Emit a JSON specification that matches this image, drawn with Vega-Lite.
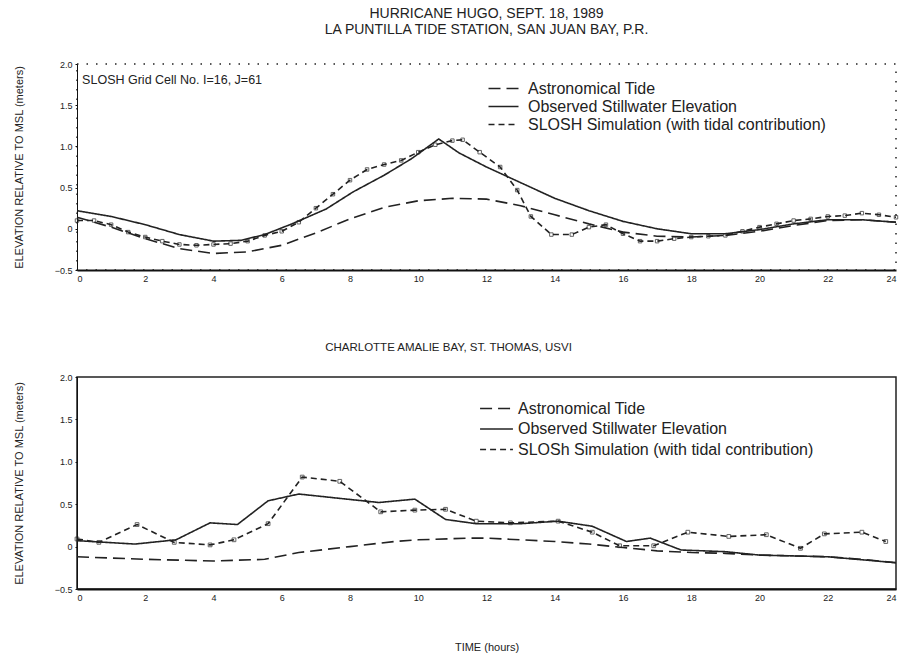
{
  "$schema": "https://vega.github.io/schema/vega-lite/v6.json",
  "background": "white",
  "padding": {"left": 12, "top": 6, "right": 10, "bottom": 1},
  "spacing": 56,
  "resolve": {"scale": {"strokeDash": "independent"}, "legend": {"strokeDash": "independent"}},
  "config": {
    "font": "Liberation Sans",
    "view": {"stroke": "black", "strokeWidth": 1},
    "axis": {"grid": false, "labelFont": "Liberation Sans", "labelFontSize": 9, "labelColor": "#222", "domainColor": "#111", "tickColor": "#111", "tickSize": 3, "titleFont": "Liberation Sans", "titleFontWeight": "normal", "titleFontSize": 11, "titleColor": "#222"},
    "legend": {"labelFont": "Liberation Sans", "labelFontSize": 16, "labelColor": "#222"},
    "title": {"font": "Liberation Sans", "fontWeight": "normal", "color": "#222"}
  },
  "datasets": {
    "top": [
      {"s": "Astronomical Tide", "h": 0, "v": 0.14}, {"s": "Astronomical Tide", "h": 1, "v": 0.02}, {"s": "Astronomical Tide", "h": 2, "v": -0.12}, {"s": "Astronomical Tide", "h": 3, "v": -0.24}, {"s": "Astronomical Tide", "h": 4, "v": -0.3}, {"s": "Astronomical Tide", "h": 5, "v": -0.28}, {"s": "Astronomical Tide", "h": 6, "v": -0.2}, {"s": "Astronomical Tide", "h": 7, "v": -0.05}, {"s": "Astronomical Tide", "h": 8, "v": 0.12}, {"s": "Astronomical Tide", "h": 9, "v": 0.26}, {"s": "Astronomical Tide", "h": 10, "v": 0.34}, {"s": "Astronomical Tide", "h": 11, "v": 0.37}, {"s": "Astronomical Tide", "h": 12, "v": 0.36}, {"s": "Astronomical Tide", "h": 13, "v": 0.28}, {"s": "Astronomical Tide", "h": 14, "v": 0.17}, {"s": "Astronomical Tide", "h": 15, "v": 0.06}, {"s": "Astronomical Tide", "h": 16, "v": -0.04}, {"s": "Astronomical Tide", "h": 17, "v": -0.09}, {"s": "Astronomical Tide", "h": 18, "v": -0.1}, {"s": "Astronomical Tide", "h": 19, "v": -0.08}, {"s": "Astronomical Tide", "h": 20, "v": -0.03}, {"s": "Astronomical Tide", "h": 21, "v": 0.04}, {"s": "Astronomical Tide", "h": 22, "v": 0.1}, {"s": "Astronomical Tide", "h": 23, "v": 0.11}, {"s": "Astronomical Tide", "h": 24, "v": 0.08},
      {"s": "Observed Stillwater Elevation", "h": 0, "v": 0.22}, {"s": "Observed Stillwater Elevation", "h": 1, "v": 0.15}, {"s": "Observed Stillwater Elevation", "h": 2, "v": 0.05}, {"s": "Observed Stillwater Elevation", "h": 3, "v": -0.07}, {"s": "Observed Stillwater Elevation", "h": 4, "v": -0.15}, {"s": "Observed Stillwater Elevation", "h": 4.8, "v": -0.14}, {"s": "Observed Stillwater Elevation", "h": 5.5, "v": -0.07}, {"s": "Observed Stillwater Elevation", "h": 6.3, "v": 0.06}, {"s": "Observed Stillwater Elevation", "h": 7.3, "v": 0.24}, {"s": "Observed Stillwater Elevation", "h": 8.1, "v": 0.45}, {"s": "Observed Stillwater Elevation", "h": 9, "v": 0.65}, {"s": "Observed Stillwater Elevation", "h": 9.8, "v": 0.85}, {"s": "Observed Stillwater Elevation", "h": 10.6, "v": 1.09}, {"s": "Observed Stillwater Elevation", "h": 11.2, "v": 0.92}, {"s": "Observed Stillwater Elevation", "h": 12, "v": 0.75}, {"s": "Observed Stillwater Elevation", "h": 13, "v": 0.56}, {"s": "Observed Stillwater Elevation", "h": 14, "v": 0.37}, {"s": "Observed Stillwater Elevation", "h": 15, "v": 0.22}, {"s": "Observed Stillwater Elevation", "h": 16, "v": 0.09}, {"s": "Observed Stillwater Elevation", "h": 17, "v": 0.0}, {"s": "Observed Stillwater Elevation", "h": 18, "v": -0.06}, {"s": "Observed Stillwater Elevation", "h": 19, "v": -0.06}, {"s": "Observed Stillwater Elevation", "h": 20, "v": -0.01}, {"s": "Observed Stillwater Elevation", "h": 21, "v": 0.06}, {"s": "Observed Stillwater Elevation", "h": 22, "v": 0.11}, {"s": "Observed Stillwater Elevation", "h": 23, "v": 0.11}, {"s": "Observed Stillwater Elevation", "h": 24, "v": 0.08},
      {"s": "SLOSH Simulation (with tidal contribution)", "h": 0, "v": 0.1}, {"s": "SLOSH Simulation (with tidal contribution)", "h": 0.5, "v": 0.1}, {"s": "SLOSH Simulation (with tidal contribution)", "h": 1, "v": 0.05}, {"s": "SLOSH Simulation (with tidal contribution)", "h": 1.5, "v": -0.04}, {"s": "SLOSH Simulation (with tidal contribution)", "h": 2, "v": -0.1}, {"s": "SLOSH Simulation (with tidal contribution)", "h": 2.5, "v": -0.15}, {"s": "SLOSH Simulation (with tidal contribution)", "h": 3, "v": -0.19}, {"s": "SLOSH Simulation (with tidal contribution)", "h": 3.5, "v": -0.2}, {"s": "SLOSH Simulation (with tidal contribution)", "h": 4, "v": -0.19}, {"s": "SLOSH Simulation (with tidal contribution)", "h": 4.5, "v": -0.18}, {"s": "SLOSH Simulation (with tidal contribution)", "h": 5, "v": -0.15}, {"s": "SLOSH Simulation (with tidal contribution)", "h": 5.5, "v": -0.08}, {"s": "SLOSH Simulation (with tidal contribution)", "h": 6, "v": -0.03}, {"s": "SLOSH Simulation (with tidal contribution)", "h": 6.5, "v": 0.08}, {"s": "SLOSH Simulation (with tidal contribution)", "h": 7, "v": 0.25}, {"s": "SLOSH Simulation (with tidal contribution)", "h": 7.5, "v": 0.42}, {"s": "SLOSH Simulation (with tidal contribution)", "h": 8, "v": 0.59}, {"s": "SLOSH Simulation (with tidal contribution)", "h": 8.5, "v": 0.72}, {"s": "SLOSH Simulation (with tidal contribution)", "h": 9, "v": 0.78}, {"s": "SLOSH Simulation (with tidal contribution)", "h": 9.5, "v": 0.83}, {"s": "SLOSH Simulation (with tidal contribution)", "h": 10, "v": 0.93}, {"s": "SLOSH Simulation (with tidal contribution)", "h": 10.5, "v": 1.02}, {"s": "SLOSH Simulation (with tidal contribution)", "h": 11, "v": 1.07}, {"s": "SLOSH Simulation (with tidal contribution)", "h": 11.3, "v": 1.08}, {"s": "SLOSH Simulation (with tidal contribution)", "h": 11.8, "v": 0.93}, {"s": "SLOSH Simulation (with tidal contribution)", "h": 12.4, "v": 0.75}, {"s": "SLOSH Simulation (with tidal contribution)", "h": 12.9, "v": 0.47}, {"s": "SLOSH Simulation (with tidal contribution)", "h": 13.3, "v": 0.15}, {"s": "SLOSH Simulation (with tidal contribution)", "h": 13.9, "v": -0.07}, {"s": "SLOSH Simulation (with tidal contribution)", "h": 14.5, "v": -0.07}, {"s": "SLOSH Simulation (with tidal contribution)", "h": 15, "v": 0.02}, {"s": "SLOSH Simulation (with tidal contribution)", "h": 15.5, "v": 0.05}, {"s": "SLOSH Simulation (with tidal contribution)", "h": 16, "v": -0.06}, {"s": "SLOSH Simulation (with tidal contribution)", "h": 16.5, "v": -0.15}, {"s": "SLOSH Simulation (with tidal contribution)", "h": 17, "v": -0.15}, {"s": "SLOSH Simulation (with tidal contribution)", "h": 17.5, "v": -0.12}, {"s": "SLOSH Simulation (with tidal contribution)", "h": 18, "v": -0.1}, {"s": "SLOSH Simulation (with tidal contribution)", "h": 18.5, "v": -0.09}, {"s": "SLOSH Simulation (with tidal contribution)", "h": 19, "v": -0.08}, {"s": "SLOSH Simulation (with tidal contribution)", "h": 19.5, "v": -0.03}, {"s": "SLOSH Simulation (with tidal contribution)", "h": 20, "v": 0.02}, {"s": "SLOSH Simulation (with tidal contribution)", "h": 20.5, "v": 0.06}, {"s": "SLOSH Simulation (with tidal contribution)", "h": 21, "v": 0.1}, {"s": "SLOSH Simulation (with tidal contribution)", "h": 21.5, "v": 0.12}, {"s": "SLOSH Simulation (with tidal contribution)", "h": 22, "v": 0.15}, {"s": "SLOSH Simulation (with tidal contribution)", "h": 22.5, "v": 0.16}, {"s": "SLOSH Simulation (with tidal contribution)", "h": 23, "v": 0.19}, {"s": "SLOSH Simulation (with tidal contribution)", "h": 23.5, "v": 0.17}, {"s": "SLOSH Simulation (with tidal contribution)", "h": 24, "v": 0.14}
    ],
    "bottom": [
      {"s": "Astronomical Tide", "h": 0, "v": -0.12}, {"s": "Astronomical Tide", "h": 2, "v": -0.15}, {"s": "Astronomical Tide", "h": 4, "v": -0.17}, {"s": "Astronomical Tide", "h": 5.5, "v": -0.15}, {"s": "Astronomical Tide", "h": 6.5, "v": -0.07}, {"s": "Astronomical Tide", "h": 8, "v": 0.0}, {"s": "Astronomical Tide", "h": 9.3, "v": 0.06}, {"s": "Astronomical Tide", "h": 10, "v": 0.08}, {"s": "Astronomical Tide", "h": 11.5, "v": 0.1}, {"s": "Astronomical Tide", "h": 12, "v": 0.1}, {"s": "Astronomical Tide", "h": 13, "v": 0.08}, {"s": "Astronomical Tide", "h": 14, "v": 0.06}, {"s": "Astronomical Tide", "h": 15, "v": 0.03}, {"s": "Astronomical Tide", "h": 16, "v": -0.01}, {"s": "Astronomical Tide", "h": 17, "v": -0.05}, {"s": "Astronomical Tide", "h": 18, "v": -0.07}, {"s": "Astronomical Tide", "h": 19, "v": -0.08}, {"s": "Astronomical Tide", "h": 20, "v": -0.1}, {"s": "Astronomical Tide", "h": 21, "v": -0.11}, {"s": "Astronomical Tide", "h": 22, "v": -0.12}, {"s": "Astronomical Tide", "h": 23, "v": -0.15}, {"s": "Astronomical Tide", "h": 24, "v": -0.19},
      {"s": "Observed Stillwater Elevation", "h": 0, "v": 0.07}, {"s": "Observed Stillwater Elevation", "h": 1.7, "v": 0.03}, {"s": "Observed Stillwater Elevation", "h": 2.9, "v": 0.08}, {"s": "Observed Stillwater Elevation", "h": 3.9, "v": 0.28}, {"s": "Observed Stillwater Elevation", "h": 4.7, "v": 0.26}, {"s": "Observed Stillwater Elevation", "h": 5.6, "v": 0.54}, {"s": "Observed Stillwater Elevation", "h": 6.5, "v": 0.62}, {"s": "Observed Stillwater Elevation", "h": 7.9, "v": 0.56}, {"s": "Observed Stillwater Elevation", "h": 8.85, "v": 0.52}, {"s": "Observed Stillwater Elevation", "h": 9.9, "v": 0.56}, {"s": "Observed Stillwater Elevation", "h": 10.8, "v": 0.32}, {"s": "Observed Stillwater Elevation", "h": 11.7, "v": 0.27}, {"s": "Observed Stillwater Elevation", "h": 13, "v": 0.27}, {"s": "Observed Stillwater Elevation", "h": 14.1, "v": 0.3}, {"s": "Observed Stillwater Elevation", "h": 15.1, "v": 0.24}, {"s": "Observed Stillwater Elevation", "h": 16.1, "v": 0.06}, {"s": "Observed Stillwater Elevation", "h": 16.8, "v": 0.1}, {"s": "Observed Stillwater Elevation", "h": 17.7, "v": -0.04}, {"s": "Observed Stillwater Elevation", "h": 19, "v": -0.06}, {"s": "Observed Stillwater Elevation", "h": 20, "v": -0.1}, {"s": "Observed Stillwater Elevation", "h": 22, "v": -0.12}, {"s": "Observed Stillwater Elevation", "h": 24, "v": -0.19},
      {"s": "SLOSh Simulation (with tidal contribution)", "h": 0, "v": 0.09}, {"s": "SLOSh Simulation (with tidal contribution)", "h": 0.64, "v": 0.05}, {"s": "SLOSh Simulation (with tidal contribution)", "h": 1.76, "v": 0.26}, {"s": "SLOSh Simulation (with tidal contribution)", "h": 2.85, "v": 0.05}, {"s": "SLOSh Simulation (with tidal contribution)", "h": 3.9, "v": 0.02}, {"s": "SLOSh Simulation (with tidal contribution)", "h": 4.6, "v": 0.08}, {"s": "SLOSh Simulation (with tidal contribution)", "h": 5.6, "v": 0.27}, {"s": "SLOSh Simulation (with tidal contribution)", "h": 6.6, "v": 0.82}, {"s": "SLOSh Simulation (with tidal contribution)", "h": 7.7, "v": 0.77}, {"s": "SLOSh Simulation (with tidal contribution)", "h": 8.9, "v": 0.41}, {"s": "SLOSh Simulation (with tidal contribution)", "h": 9.9, "v": 0.43}, {"s": "SLOSh Simulation (with tidal contribution)", "h": 10.8, "v": 0.44}, {"s": "SLOSh Simulation (with tidal contribution)", "h": 11.7, "v": 0.3}, {"s": "SLOSh Simulation (with tidal contribution)", "h": 12.7, "v": 0.28}, {"s": "SLOSh Simulation (with tidal contribution)", "h": 14.1, "v": 0.3}, {"s": "SLOSh Simulation (with tidal contribution)", "h": 15.1, "v": 0.17}, {"s": "SLOSh Simulation (with tidal contribution)", "h": 15.9, "v": 0.01}, {"s": "SLOSh Simulation (with tidal contribution)", "h": 16.9, "v": 0.01}, {"s": "SLOSh Simulation (with tidal contribution)", "h": 17.9, "v": 0.17}, {"s": "SLOSh Simulation (with tidal contribution)", "h": 19.1, "v": 0.12}, {"s": "SLOSh Simulation (with tidal contribution)", "h": 20.2, "v": 0.14}, {"s": "SLOSh Simulation (with tidal contribution)", "h": 21.2, "v": -0.02}, {"s": "SLOSh Simulation (with tidal contribution)", "h": 21.9, "v": 0.15}, {"s": "SLOSh Simulation (with tidal contribution)", "h": 23.0, "v": 0.17}, {"s": "SLOSh Simulation (with tidal contribution)", "h": 23.7, "v": 0.06}
    ],
    "note": [{"label": "SLOSH Grid Cell No. I=16, J=61", "h": 0.15, "v": 1.81}]
  },
  "vconcat": [
    {
      "width": 819,
      "height": 206,
      "view": {"stroke": "#222", "strokeDash": [1.5, 8], "strokeWidth": 1.5},
      "title": {"text": ["HURRICANE HUGO, SEPT. 18, 1989", "LA PUNTILLA TIDE STATION, SAN JUAN BAY, P.R."], "fontSize": 14, "lineHeight": 16, "offset": 23, "anchor": "middle"},
      "layer": [
        {
          "data": {"name": "top"},
          "mark": {"type": "line", "strokeWidth": 1.6, "color": "#222"},
          "encoding": {
            "x": {"field": "h", "type": "quantitative", "scale": {"domain": [0, 24], "nice": false}, "axis": {"values": [0, 2, 4, 6, 8, 10, 12, 14, 16, 18, 20, 22, 24], "title": null, "domainWidth": 2, "tickSize": 0, "labelPadding": 4}},
            "y": {"field": "v", "type": "quantitative", "scale": {"domain": [-0.5, 2.0], "nice": false}, "axis": {"values": [-0.5, 0, 0.5, 1, 1.5, 2], "labelExpr": "datum.value == 0 ? '0' : format(datum.value, '.1f')", "title": "ELEVATION RELATIVE TO MSL (meters)", "titlePadding": 30, "tickSize": 2, "labelPadding": 3}},
            "strokeDash": {"field": "s", "type": "nominal", "scale": {"domain": ["Astronomical Tide", "Observed Stillwater Elevation", "SLOSH Simulation (with tidal contribution)"], "range": [[12, 6], [1, 0], [6, 4]]}, "legend": {"title": null, "orient": "none", "legendX": 418, "legendY": 16, "symbolType": "M-2,0H2", "symbolSize": 225, "symbolStrokeWidth": 1.6, "symbolStrokeColor": "#222", "rowPadding": 1, "labelOffset": 16, "labelLimit": 450}}
          }
        },
        {
          "data": {"name": "top"},
          "transform": [{"filter": "datum.s == 'SLOSH Simulation (with tidal contribution)'"}],
          "mark": {"type": "point", "shape": "square", "filled": false, "size": 12, "color": "#222", "strokeWidth": 1},
          "encoding": {
            "x": {"field": "h", "type": "quantitative"},
            "y": {"field": "v", "type": "quantitative"}
          }
        },
        {
          "data": {"name": "note"},
          "mark": {"type": "text", "align": "left", "baseline": "middle", "fontSize": 12.5, "font": "Liberation Sans", "color": "#222"},
          "encoding": {
            "text": {"field": "label", "type": "nominal"},
            "x": {"field": "h", "type": "quantitative"},
            "y": {"field": "v", "type": "quantitative"}
          }
        }
      ]
    },
    {
      "width": 819,
      "height": 212,
      "view": {"stroke": "#222", "strokeWidth": 1.5},
      "title": {"text": "CHARLOTTE AMALIE BAY, ST. THOMAS, USVI", "fontSize": 11.5, "offset": 20, "anchor": "middle", "dx": -38},
      "data": {"name": "bottom"},
      "encoding": {
        "x": {"field": "h", "type": "quantitative", "scale": {"domain": [0, 24], "nice": false}, "axis": {"values": [0, 2, 4, 6, 8, 10, 12, 14, 16, 18, 20, 22, 24], "title": "TIME (hours)", "titleFontSize": 11, "titlePadding": 39, "domainWidth": 2, "tickSize": 0, "labelPadding": 4}},
        "y": {"field": "v", "type": "quantitative", "scale": {"domain": [-0.5, 2.0], "nice": false}, "axis": {"values": [-0.5, 0, 0.5, 1, 1.5, 2], "labelExpr": "datum.value == 0 ? '0' : format(datum.value, '.1f')", "title": "ELEVATION RELATIVE TO MSL (meters)", "titlePadding": 30, "tickSize": 2, "labelPadding": 3}}
      },
      "layer": [
        {
          "mark": {"type": "line", "strokeWidth": 1.6, "color": "#222"},
          "encoding": {
            "strokeDash": {"field": "s", "type": "nominal", "scale": {"domain": ["Astronomical Tide", "Observed Stillwater Elevation", "SLOSh Simulation (with tidal contribution)"], "range": [[12, 6], [1, 0], [6, 4]]}, "legend": {"title": null, "orient": "none", "legendX": 410, "legendY": 22, "symbolType": "M-2,0H2", "symbolSize": 270, "symbolStrokeWidth": 1.6, "symbolStrokeColor": "#222", "rowPadding": 2.5, "labelOffset": 12, "labelLimit": 450}}
          }
        },
        {
          "transform": [{"filter": "datum.s == 'SLOSh Simulation (with tidal contribution)'"}],
          "mark": {"type": "point", "shape": "square", "filled": false, "size": 14, "color": "#222", "strokeWidth": 1}
        }
      ]
    }
  ]
}
